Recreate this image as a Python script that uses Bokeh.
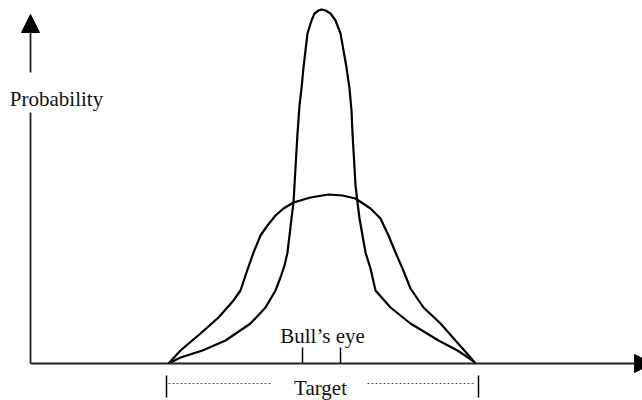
from bokeh.plotting import figure
from bokeh.models import Range1d, Arrow, NormalHead, Label
from bokeh.embed import file_html
from bokeh.resources import INLINE

# Values (x = position along target axis, y = probability height)
broad_x = [138, 150, 170, 188, 203, 210, 216, 223, 230, 237, 245, 253, 263, 280, 298,
           312, 325, 340, 350, 358, 365, 372, 380, 393, 410, 425, 440, 445]
broad_y = [0, 13, 30, 46, 63, 73, 91, 111, 128, 138, 148, 155, 161, 166, 169,
           168, 165, 155, 145, 128, 111, 95, 75, 56, 40, 23, 6, 0]

narrow_x = [138, 150, 172, 195, 220, 235, 245, 250, 254, 257, 259, 261, 263, 264, 265, 267,
            269, 271, 273, 275, 277, 281, 284, 288, 291, 295, 300, 305, 310, 313, 316, 319,
            321, 322, 324, 325, 327, 329, 332, 335, 340, 345, 360, 380, 408, 427, 442, 445]
narrow_y = [0, 6, 13, 23, 40, 56, 73, 86, 98, 111, 128, 145, 161, 178, 196, 230,
            258, 275, 296, 313, 330, 343, 350, 353, 354, 353, 350, 343, 330, 313, 296, 275,
            253, 230, 196, 178, 161, 145, 128, 111, 95, 73, 56, 40, 23, 13, 3, 0]

bulls_eye_ticks = [272, 310]
bulls_eye_label = "Bull\u2019s eye"
target_ends = [136, 448]
target_label = "Target"
y_label = "Probability"

FONT = "Liberation Serif"
FS = "21px"

p = figure(width=642, height=400, output_backend="svg", toolbar_location=None,
           x_range=Range1d(-30, 612), y_range=Range1d(-37, 363),
           x_axis_type=None, y_axis_type=None, min_border=0)
p.outline_line_color = None
p.xgrid.visible = False
p.ygrid.visible = False
p.background_fill_color = "white"

# curves
p.line(broad_x, broad_y, line_color="black", line_width=2.2, line_join="round")
p.line(narrow_x, narrow_y, line_color="black", line_width=2.2, line_join="round")

# x axis with arrow
p.add_layout(Arrow(x_start=0, y_start=0, x_end=622, y_end=0, line_width=1.8, line_color="#222",
                   end=NormalHead(size=18, fill_color="black", line_color="black")))
# y axis: lower segment and upper arrow
p.segment(x0=[0], y0=[0], x1=[0], y1=[251], line_color="#222", line_width=1.8)
p.add_layout(Arrow(x_start=0, y_start=291, x_end=0, y_end=349, line_width=1.8, line_color="#222",
                   end=NormalHead(size=18, fill_color="black", line_color="black")))
p.add_layout(Label(x=26, y=265, text=y_label, text_font=FONT, text_font_size=FS,
                   text_align="center", text_baseline="alphabetic", text_color="#111"))

# bull's eye ticks
p.segment(x0=bulls_eye_ticks, y0=[0, 0], x1=bulls_eye_ticks, y1=[16, 16],
          line_color="black", line_width=1.5)
p.add_layout(Label(x=sum(bulls_eye_ticks) / 2 + 1, y=28, text=bulls_eye_label, text_font=FONT,
                   text_font_size=FS, text_align="center", text_baseline="alphabetic",
                   text_color="#111"))

# target bracket
p.segment(x0=target_ends, y0=[-12, -12], x1=target_ends, y1=[-34, -34],
          line_color="black", line_width=1.5)
mid = sum(target_ends) / 2
p.segment(x0=[target_ends[0] + 2, mid + 45], y0=[-20, -20],
          x1=[mid - 52, target_ends[1] - 3], y1=[-20, -20],
          line_color="#555", line_width=1, line_dash="2 2")
p.add_layout(Label(x=mid - 2, y=-24, text=target_label, text_font=FONT, text_font_size=FS,
                   text_align="center", text_baseline="alphabetic", text_color="#111"))

open("out.html", "w").write(file_html(p, INLINE))
